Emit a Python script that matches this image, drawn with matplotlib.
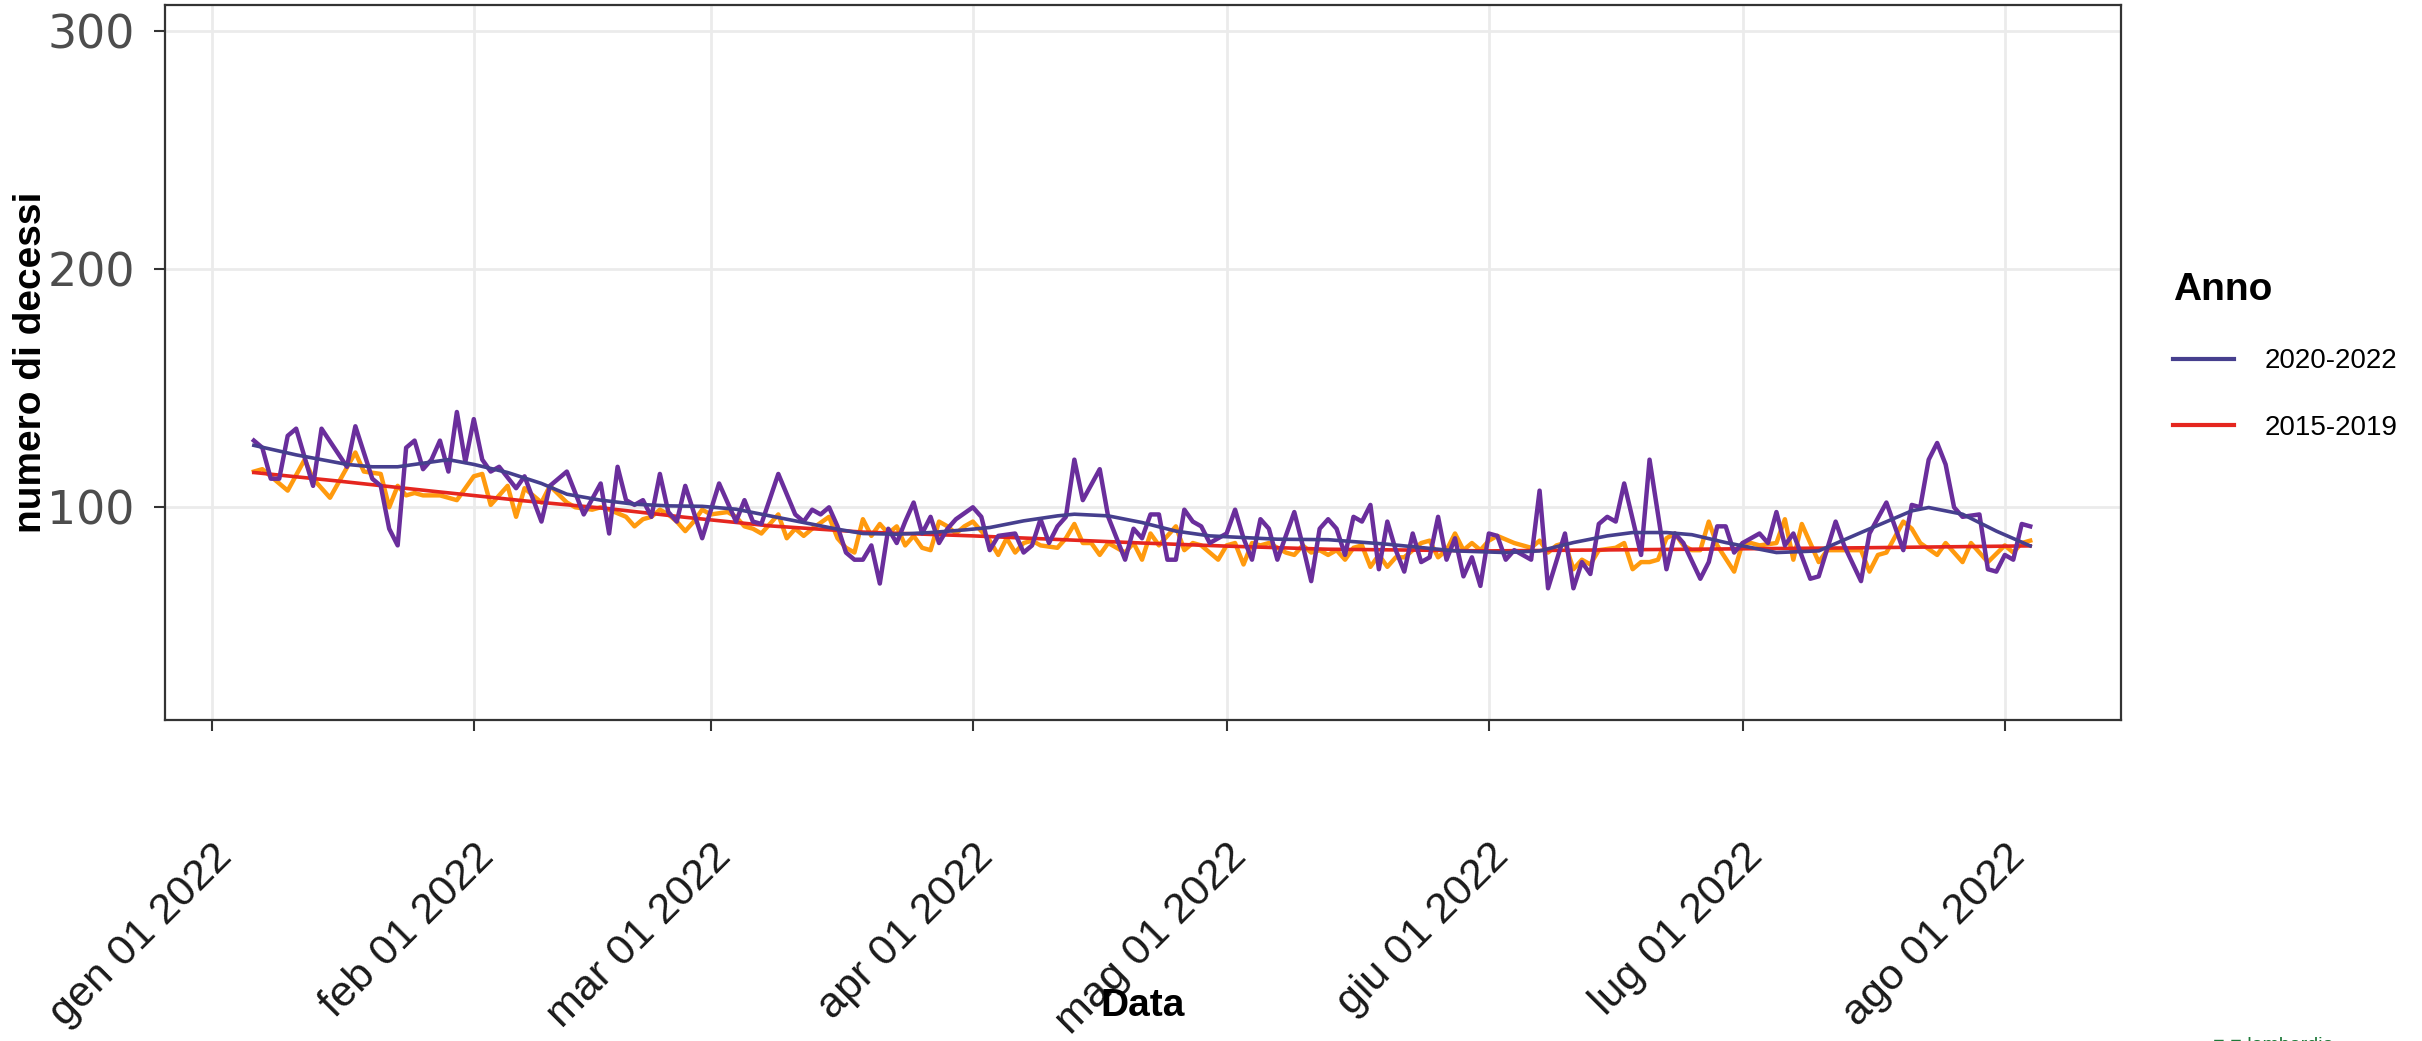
"""Decessi giornalieri 2022 vs media 2015-2019"""
import numpy as np
import matplotlib
matplotlib.use("Agg")
import matplotlib.pyplot as plt
import matplotlib.dates as mdates
from matplotlib.transforms import ScaledTranslation

# giorni dal 1 gennaio 2022 e decessi giornalieri (anno 2022)
giorni_2022 = [5, 6, 7, 8, 9, 10, 12, 13, 16, 17, 19, 20, 21, 22, 23, 24, 25, 26, 27, 28,
               29, 30, 31, 32, 33, 34, 36, 37, 39, 40, 42, 44, 46, 47, 48, 49, 50, 51, 52, 53,
               54, 55, 56, 57, 58, 60, 62, 63, 64, 65, 67, 69, 70, 71, 72, 73, 74, 75, 76, 77,
               78, 79, 80, 81, 82, 83, 84, 85, 86, 87, 88, 90, 91, 92, 93, 95, 96, 97, 98, 99,
               100, 101, 102, 103, 105, 106, 108, 109, 110, 111, 112, 113, 114, 115, 116, 117, 118, 120, 121, 122,
               123, 124, 125, 126, 128, 129, 130, 131, 132, 133, 134, 135, 136, 137, 138, 139, 140, 141, 142, 143,
               144, 145, 146, 147, 148, 149, 150, 151, 152, 153, 154, 156, 157, 158, 160, 161, 162, 163, 164, 165,
               166, 167, 169, 170, 172, 173, 174, 176, 177, 178, 179, 180, 181, 183, 184, 185, 186, 187, 189, 190,
               192, 193, 195, 196, 198, 200, 201, 202, 203, 204, 205, 206, 207, 209, 210, 211, 212, 213, 214, 215]
decessi_2022 = [128, 125, 112, 112, 130, 133, 109, 133, 117, 134, 112, 109, 91, 84, 125, 128, 116, 120, 128, 115,
                140, 119, 137, 120, 115, 117, 108, 113, 94, 109, 115, 97, 110, 89, 117, 103, 101, 103, 96, 114,
                98, 94, 109, 98, 87, 110, 94, 103, 94, 93, 114, 97, 94, 99, 97, 100, 92, 81, 78, 78,
                84, 68, 91, 85, 94, 102, 89, 96, 85, 91, 95, 100, 96, 82, 88, 89, 81, 84, 95, 85,
                92, 96, 120, 103, 116, 96, 78, 91, 87, 97, 97, 78, 78, 99, 94, 92, 85, 89, 99, 87,
                78, 95, 91, 78, 98, 84, 69, 91, 95, 91, 80, 96, 94, 101, 74, 94, 82, 73, 89, 77,
                79, 96, 78, 87, 71, 79, 67, 89, 88, 78, 82, 78, 107, 66, 89, 66, 77, 72, 93, 96,
                94, 110, 80, 120, 74, 89, 85, 70, 77, 92, 92, 81, 85, 89, 85, 98, 84, 89, 70, 71,
                94, 84, 69, 89, 102, 82, 101, 100, 120, 127, 118, 100, 96, 97, 74, 73, 80, 78, 93, 92]

# media giornaliera 2015-2019
giorni_1519 = [5, 6, 7, 9, 11, 12, 14, 17, 18, 20, 21, 22, 23, 24, 25, 27, 29, 31, 32, 33,
               35, 36, 37, 39, 40, 42, 43, 45, 46, 47, 49, 50, 51, 52, 53, 54, 55, 56, 57, 58,
               59, 61, 62, 63, 64, 65, 66, 67, 68, 69, 70, 71, 73, 74, 75, 76, 77, 78, 79, 80,
               81, 82, 83, 84, 85, 86, 87, 88, 89, 90, 91, 92, 93, 94, 95, 96, 97, 98, 100, 101,
               102, 103, 104, 105, 106, 107, 108, 109, 110, 111, 112, 113, 114, 115, 116, 117, 119, 120, 121, 122,
               123, 124, 125, 127, 128, 129, 130, 131, 132, 133, 134, 135, 136, 137, 138, 139, 140, 141, 143, 144,
               145, 146, 147, 148, 149, 150, 151, 152, 154, 155, 156, 157, 158, 159, 160, 161, 162, 163, 164, 166,
               167, 168, 169, 170, 171, 172, 173, 174, 175, 176, 177, 178, 180, 181, 182, 183, 185, 186, 187, 188,
               189, 190, 191, 192, 194, 195, 196, 197, 198, 200, 201, 202, 204, 205, 207, 208, 210, 212, 213, 214, 215]
decessi_1519 = [115, 116, 113, 107, 120, 112, 104, 123, 115, 114, 100, 109, 105, 106, 105, 105, 103, 113, 114, 101,
                109, 96, 108, 102, 109, 102, 100, 99, 100, 99, 96, 92, 95, 96, 99, 97, 94, 90, 94, 99,
                97, 98, 96, 92, 91, 89, 93, 97, 87, 91, 88, 91, 96, 87, 83, 81, 95, 88, 93, 89,
                92, 84, 88, 83, 82, 94, 92, 89, 92, 94, 90, 86, 80, 87, 81, 85, 86, 84, 83, 87,
                93, 85, 85, 80, 85, 83, 81, 85, 78, 89, 84, 88, 92, 82, 85, 84, 78, 84, 85, 76,
                85, 84, 85, 81, 80, 84, 81, 82, 80, 82, 78, 83, 84, 75, 80, 75, 79, 79, 85, 86,
                79, 82, 89, 82, 85, 82, 86, 88, 85, 84, 83, 86, 81, 84, 85, 74, 78, 76, 82, 83,
                85, 74, 77, 77, 78, 87, 89, 84, 82, 82, 94, 84, 73, 85, 85, 84, 85, 95, 78, 93,
                85, 77, 82, 82, 82, 82, 73, 80, 81, 94, 91, 85, 80, 85, 77, 85, 77, 84, 81, 85, 86]

# curve di tendenza (smooth)
giorni_smooth_2022 = [5, 10, 16, 19, 22, 25, 28, 31, 35, 39, 42, 46, 50, 54, 58, 62, 66, 70, 74, 77,
                      81, 85, 89, 92, 96, 100, 102, 106, 110, 114, 118, 122, 126, 132, 139, 147, 153, 157, 161, 165,
                      168, 172, 175, 179, 185, 190, 195, 201, 203, 207, 211, 215]
smooth_2022 = [126, 122, 118, 117, 117, 118.5, 120, 118, 114.6, 110, 105.5, 103, 101.3, 100.6, 100.4, 99.2, 96.4, 93.6, 90.8, 89,
               88.7, 89.4, 90.5, 91.5, 94.3, 96.4, 97.1, 96.4, 93.6, 90, 88, 87.3, 86.6, 86.4, 84.5, 81.7, 81, 81.7, 85.2, 88,
               89.4, 89.4, 88.5, 85.2, 81, 81.7, 89.4, 98.5, 99.9, 97.1, 90, 83.8]
giorni_smooth_1519 = [5, 15, 26, 37, 47, 56, 66, 77, 90, 100, 110, 120, 132, 151, 175, 195, 215]
smooth_1519 = [114.6, 111, 106.8, 102.7, 99.4, 95.8, 92.2, 89.6, 88, 86.5, 85, 83.7, 82.4, 81.7, 82.4, 83, 83.8]

mesi = ['2022-01-01', '2022-02-01', '2022-03-01', '2022-04-01',
        '2022-05-01', '2022-06-01', '2022-07-01', '2022-08-01']
etichette_mesi = ['gen 01 2022', 'feb 01 2022', 'mar 01 2022', 'apr 01 2022',
                  'mag 01 2022', 'giu 01 2022', 'lug 01 2022', 'ago 01 2022']

plt.rcParams['font.family'] = ['Liberation Sans', 'DejaVu Sans']

inizio = mdates.date2num(np.datetime64('2022-01-01'))

def giorno(d):
    return inizio + np.asarray(d, dtype=float)

fig = plt.figure(figsize=(24.22, 10.41), dpi=100)
ax = fig.add_axes([0.06825, 0.30855, 0.80735, 0.68703])

ax.plot(giorno(giorni_1519), decessi_1519, color='#FF9A0E', lw=3.2, zorder=3)
ax.plot(giorno(giorni_smooth_1519), smooth_1519, color='#E5261F', lw=2.6, zorder=4, label='2015-2019')
ax.plot(giorno(giorni_2022), decessi_2022, color='#6A2E9C', lw=3.2, zorder=5)
ax.plot(giorno(giorni_smooth_2022), smooth_2022, color='#463F8E', lw=2.6, zorder=6, label='2020-2022')

ax.set_xlim(inizio - 5.47, inizio + 225.7)
ax.set_ylim(10.8, 311)
ax.set_yticks([100, 200, 300])
ax.set_xticks(mdates.date2num(np.array(mesi, dtype='datetime64[D]')))
ax.set_xticklabels(etichette_mesi, rotation=45, ha='right', va='top', rotation_mode='anchor',
                   fontsize=31, color='#1A1A1A')
for lab in ax.get_xticklabels():
    lab.set_transform(lab.get_transform() + ScaledTranslation(0.12, 0, fig.dpi_scale_trans))
for lab in ax.get_yticklabels():
    lab.set_fontsize(33)
    lab.set_color('#4D4D4D')
    lab.set_family(['DejaVu Sans'])

ax.tick_params(axis='x', length=8, width=1.5, color='#333333', pad=76)
ax.tick_params(axis='y', length=8, width=1.5, color='#333333', pad=14)
ax.grid(True, color='#EBEBEB', lw=2, zorder=0)
ax.set_axisbelow(True)
for s in ax.spines.values():
    s.set_color('#333333')
    s.set_linewidth(1.6)

fig.text(0.013, 1 - 362 / 1041, 'numero di decessi', rotation=90, ha='center', va='center',
         fontsize=28, fontweight='bold')
fig.text(1143 / 2422, 0.0336, 'Data', ha='center', va='center', fontsize=28, fontweight='bold')

h, l = ax.get_legend_handles_labels()
leg = fig.legend(h[::-1], l[::-1], title='Anno', loc='upper left', bbox_to_anchor=(2148 / 2422, 1 - 247 / 1041),
                 frameon=False, fontsize=20, handlelength=2.2, handletextpad=1.1, labelspacing=1.45,
                 alignment='left', title_fontproperties={'weight': 'bold', 'size': 28})
for line in leg.get_lines():
    line.set_linewidth(3)

# logo parzialmente tagliato in basso a destra
fig.text(2213 / 2422, 0.004, '■ ■ lombardia', color='#1E7A3A', fontsize=14, ha='left', va='top')

fig.savefig('out.png', dpi=100)
plt.close(fig)
